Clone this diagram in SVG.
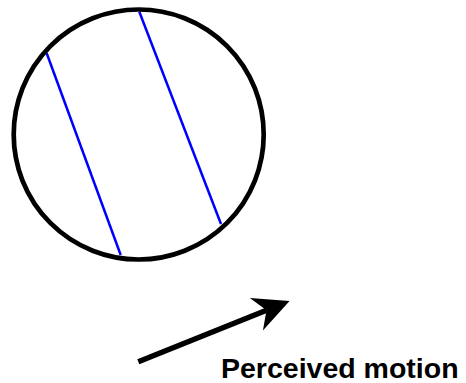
<svg xmlns="http://www.w3.org/2000/svg" width="466" height="383" viewBox="0 0 466 383">
<defs>
<style>
.grating{stroke:#0000ff;stroke-width:2.5;fill:none}
.label{font-family:"Liberation Sans",Arial,sans-serif;font-weight:bold;font-size:28.5px;fill:#000}
</style>
<marker id="head" markerUnits="userSpaceOnUse" markerWidth="40" markerHeight="40" viewBox="-11 -16 33 32" refX="0" refY="0" orient="auto">
<path d="M20.5,0 L-9,-14.5 L0,0 L-9,14.5 Z" fill="#000"/>
</marker>
</defs>
<rect width="466" height="383" fill="#fff"/>
<g id="aperture">
<line class="grating" x1="46.7" y1="53.3" x2="120.7" y2="255"/>
<line class="grating" x1="139.3" y1="11.7" x2="221" y2="224"/>
<circle cx="138.7" cy="134.5" r="125" fill="none" stroke="#000" stroke-width="4.7"/>
</g>
<g id="connectors">
<line x1="138.3" y1="361.7" x2="266.5" y2="310.2" stroke="#000" stroke-width="5.5" marker-end="url(#head)"/>
</g>
<g id="label">
<text class="label" x="221" y="378">Perceived motion</text>
</g>
</svg>
